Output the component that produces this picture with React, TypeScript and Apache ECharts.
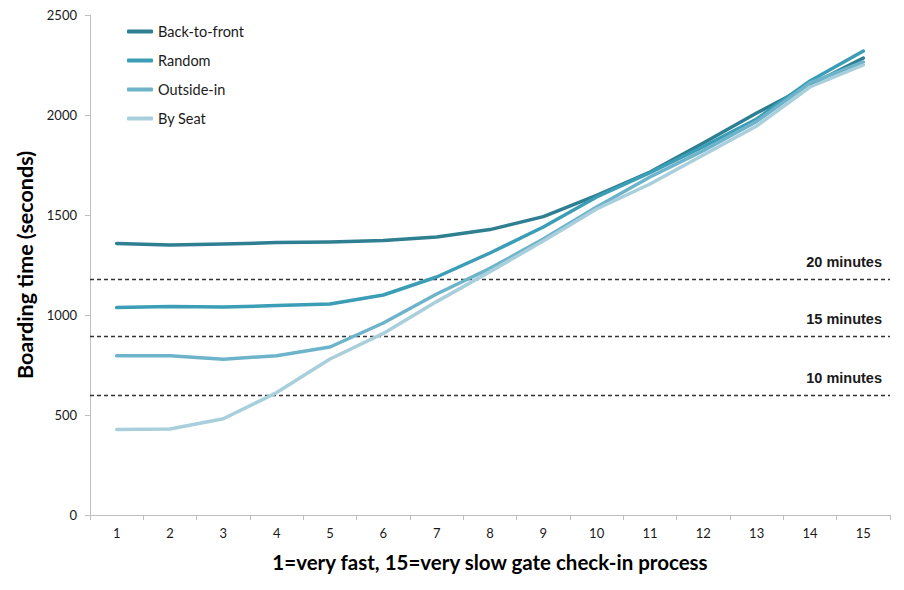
import React, { useEffect, useRef } from "react";
import * as echarts from "echarts";

const categories = ["1", "2", "3", "4", "5", "6", "7", "8", "9", "10", "11", "12", "13", "14", "15"];
const backToFront = [1358, 1350, 1355, 1362, 1365, 1372, 1390, 1427, 1492, 1598, 1715, 1860, 2010, 2150, 2285];
const random = [1037, 1042, 1040, 1047, 1055, 1100, 1190, 1310, 1440, 1590, 1712, 1842, 1980, 2170, 2320];
const outsideIn = [796, 796, 779, 796, 840, 960, 1105, 1233, 1380, 1540, 1690, 1822, 1968, 2160, 2265];
const bySeat = [428, 430, 481, 612, 780, 908, 1067, 1217, 1370, 1530, 1655, 1800, 1945, 2140, 2250];
const yTicks = { min: 0, max: 2500, interval: 500 };
const refLines = [
  { value: 1180, label: "20 minutes" },
  { value: 895, label: "15 minutes" },
  { value: 597, label: "10 minutes" },
];
const seriesNames = ["Back-to-front", "Random", "Outside-in", "By Seat"];
const colors = ["#2f7f93", "#3b9db6", "#6db4cb", "#a8cfdb"];

export default function App() {
  const ref = useRef<HTMLDivElement>(null);
  useEffect(() => {
    if (!ref.current) return;
    const chart = echarts.init(ref.current, null, { renderer: "svg" });
    const dataSets = [backToFront, random, outsideIn, bySeat];
    const font = "Lato, 'Open Sans', sans-serif";
    chart.setOption({
      animation: false,
      color: colors,
      grid: { left: 90, right: 14, top: 15, bottom: 75, containLabel: false },
      legend: {
        orient: "vertical",
        left: 122,
        top: 19,
        itemWidth: 26,
        itemHeight: 4,
        itemGap: 14,
        icon: "roundRect",
        data: seriesNames,
        textStyle: { fontFamily: font, fontSize: 14.5, color: "#1a1a1a" },
      },
      xAxis: {
        type: "category",
        data: categories,
        boundaryGap: true,
        axisLine: { lineStyle: { color: "#bfbfbf", width: 1 } },
        axisTick: { show: true, length: 5, inside: false, lineStyle: { color: "#bfbfbf" } },
        axisLabel: { margin: 11, fontFamily: font, fontSize: 13, color: "#1a1a1a" },
        name: "1=very fast, 15=very slow gate check-in process",
        nameLocation: "middle",
        nameGap: 36,
        nameTextStyle: { fontFamily: font, fontSize: 20.5, fontWeight: "bold", color: "#000" },
      },
      yAxis: {
        type: "value",
        min: yTicks.min,
        max: yTicks.max,
        interval: yTicks.interval,
        axisLine: { show: true, lineStyle: { color: "#bfbfbf", width: 1 } },
        axisTick: { show: true, length: 5, lineStyle: { color: "#bfbfbf" } },
        splitLine: { show: false },
        axisLabel: {
          margin: 13,
          fontFamily: font,
          fontSize: 13,
          color: "#1a1a1a",
          formatter: (v: number) => String(v),
        },
        name: "Boarding time (seconds)",
        nameLocation: "middle",
        nameGap: 42,
        nameTextStyle: { fontFamily: font, fontSize: 21.5, fontWeight: "bold", color: "#000" },
      },
      series: seriesNames.map((name, i) => ({
        name,
        type: "line",
        data: dataSets[i],
        symbol: "none",
        smooth: false,
        lineStyle: { width: 3.5, color: colors[i], cap: "round", join: "round" },
        z: 3,
        markLine:
          i === 0
            ? {
                silent: true,
                symbol: "none",
                lineStyle: { type: [4, 3], color: "#333333", width: 1.3 },
                label: {
                  show: true,
                  position: "insideEndTop",
                  distance: [8, 10],
                  fontFamily: "'Liberation Sans', Arial, sans-serif",
                  fontWeight: "bold",
                  fontSize: 14.5,
                  color: "#1a1a1a",
                  formatter: (p: any) => p.name,
                },
                data: refLines.map((r) => ({ name: r.label, yAxis: r.value })),
                z: 1,
              }
            : undefined,
      })),
    });
    return () => chart.dispose();
  }, []);
  return (
    <div
      ref={ref}
      style={{ position: "absolute", left: 0, top: 0, width: 904, height: 590, background: "#fff" }}
    />
  );
}
